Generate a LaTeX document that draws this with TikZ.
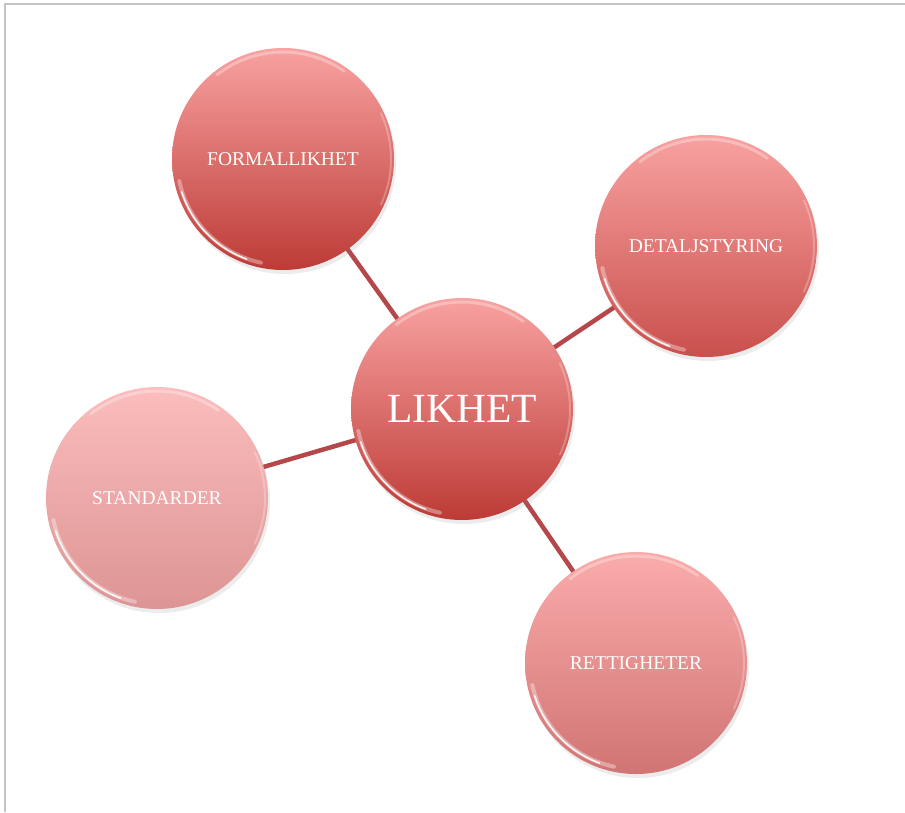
\documentclass[tikz,border=0pt]{standalone}
\usepackage{fontspec}
\setmainfont{Liberation Serif}
\usetikzlibrary{shadows,backgrounds}
\definecolor{linkc}{HTML}{B5474A}
\definecolor{frame}{HTML}{C4C4C4}
\definecolor{dtop}{HTML}{F8A2A1}
\definecolor{dbot}{HTML}{BD3B36}
\definecolor{mtop}{HTML}{F8A2A1}
\definecolor{mbot}{HTML}{C9504C}
\definecolor{rtop}{HTML}{FAACAB}
\definecolor{rbot}{HTML}{D17474}
\definecolor{stop}{HTML}{FBBDBD}
\definecolor{sbot}{HTML}{DD9494}
\tikzset{
  bubble/.style={circle, minimum size=222pt, inner sep=0pt, text=white,
    font=\fontsize{19.5}{21}\selectfont,
    drop shadow={opacity=0.15, shadow xshift=2pt, shadow yshift=-4pt}},
  hub/.style={bubble, font=\fontsize{41.5}{44}\selectfont},
  link/.style={draw=linkc, line width=4.5pt},
  glossA/.style={draw=white, line width=4pt, opacity=0.35, line cap=round},
  glossA2/.style={draw=white, line width=1.6pt, opacity=0.9, line cap=round},
  glossB/.style={draw=white, line width=3pt, opacity=0.3, line cap=round},
  glossC/.style={draw=white, line width=2pt, opacity=0.25, line cap=round},
}
\newcommand{\gloss}[1]{%
  \draw[glossA] (#1.center) ++(192:106) arc[start angle=192, end angle=258, radius=106];
  \draw[glossA2] (#1.center) ++(198:106.5) arc[start angle=198, end angle=250, radius=106.5];
  \draw[glossB] (#1.center) ++(55:107) arc[start angle=55, end angle=128, radius=107];
  \draw[glossC] (#1.center) ++(335:108) arc[start angle=335, end angle=385, radius=108];
}
\begin{document}
\begin{tikzpicture}[x=1pt,y=1pt]
\useasboundingbox (0,0) rectangle (905,-812);
\node[hub, top color=dtop, bottom color=dbot] (lik) at (462,-409) {LIKHET};
\node[bubble, top color=dtop, bottom color=dbot] (form) at (283,-159) {FORMALLIKHET};
\node[bubble, top color=mtop, bottom color=mbot] (det) at (706,-246) {DETALJSTYRING};
\node[bubble, top color=stop, bottom color=sbot] (std) at (157,-498) {STANDARDER};
\node[bubble, top color=rtop, bottom color=rbot] (ret) at (636,-663) {RETTIGHETER};
\gloss{lik}\gloss{form}\gloss{det}\gloss{std}\gloss{ret}
\begin{scope}[on background layer]
  \fill[white] (0,0) rectangle (905,-812);
  \draw[frame, line width=2pt] (4.5,-812) -- (4.5,-3.5) -- (905,-3.5);
  \draw[link] (lik.center) -- (form.center);
  \draw[link] (lik.center) -- (det.center);
  \draw[link] (lik.center) -- (std.center);
  \draw[link] (lik.center) -- (ret.center);
\end{scope}
\end{tikzpicture}
\end{document}
